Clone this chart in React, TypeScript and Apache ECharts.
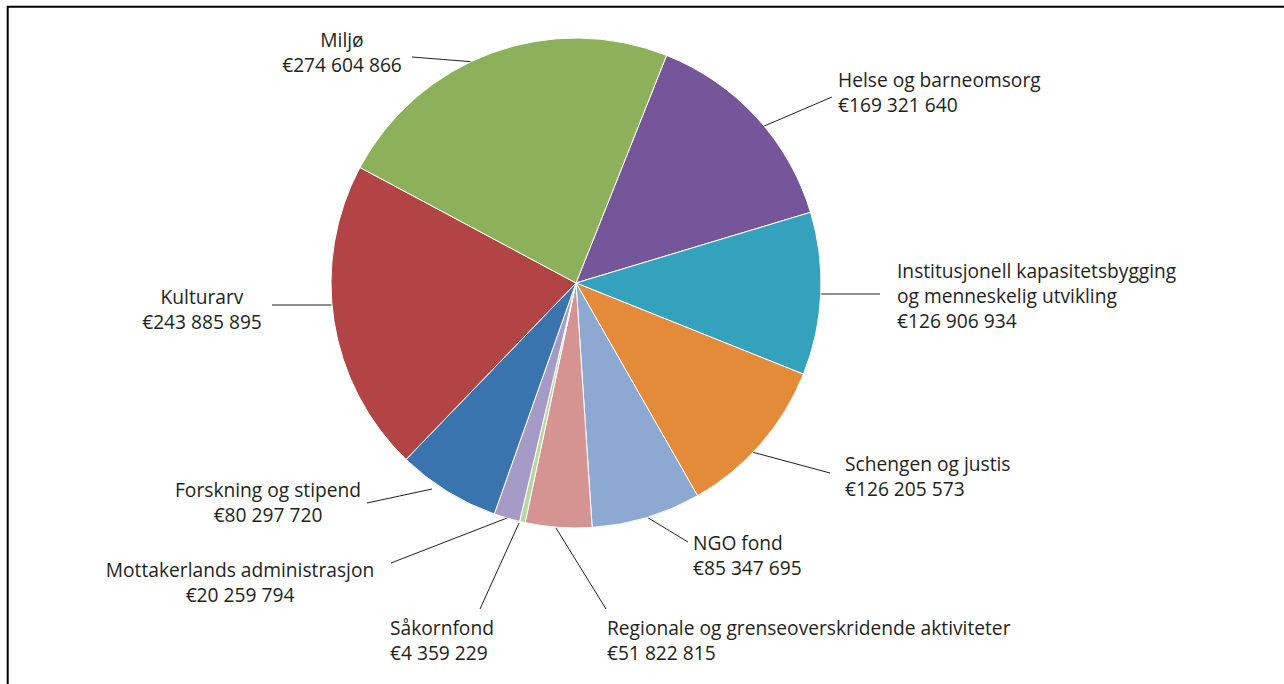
import React, { useEffect, useRef } from "react";
import * as echarts from "echarts";

// Categories in clockwise order, starting with "Helse og barneomsorg"
const categories: string[] = [
  "Helse og barneomsorg",
  "Institusjonell kapasitetsbygging\nog menneskelig utvikling",
  "Schengen og justis",
  "NGO fond",
  "Regionale og grenseoverskridende aktiviteter",
  "Såkornfond",
  "Mottakerlands administrasjon",
  "Forskning og stipend",
  "Kulturarv",
  "Miljø",
];

const values: number[] = [
  169321640,
  126906934,
  126205573,
  85347695,
  51822815,
  4359229,
  20259794,
  80297720,
  243885895,
  274604866,
];

const colors: string[] = [
  "#76569A",
  "#34A1BD",
  "#E48B3A",
  "#8DA9D2",
  "#D59492",
  "#B8D6A0",
  "#A69BC6",
  "#3A74AF",
  "#B24446",
  "#8DB05A",
];

// Label placement (layout only): anchor of text block, alignment, leader line
type Placement = { x: number; y: number; align: string; line: number[][] };
const placements: Placement[] = [
  { x: 838, y: 66.5, align: "left", line: [[762, 127], [832, 97]] },
  { x: 897, y: 258, align: "left", line: [[818, 294], [880, 294]] },
  { x: 845, y: 451, align: "left", line: [[752, 452], [830, 473]] },
  { x: 693, y: 530, align: "left", line: [[645, 516], [688, 542]] },
  { x: 607, y: 615, align: "left", line: [[556, 528], [606, 609]] },
  { x: 390, y: 615, align: "left", line: [[519, 523], [480, 609]] },
  { x: 240, y: 557, align: "center", line: [[507, 518], [391, 563]] },
  { x: 268, y: 477, align: "center", line: [[432, 489], [367, 503]] },
  { x: 202, y: 284, align: "center", line: [[332, 305], [272, 305]] },
  { x: 342, y: 27, align: "center", line: [[475, 62], [412, 57]] },
];

const fmtEuro = (v: number) =>
  "€" + String(v).replace(/\B(?=(\d{3})+(?!\d))/g, " ");

export default function App() {
  const ref = useRef<HTMLDivElement>(null);

  useEffect(() => {
    if (!ref.current) return;
    const chart = echarts.init(ref.current, undefined, { renderer: "svg" });
    const textColor = "#231F20";
    chart.setOption({
      animation: false,
      backgroundColor: "#ffffff",
      graphic: [
        {
          type: "polyline",
          shape: { points: [[7.7, 684], [7.7, 6.7], [1284, 6.7]] },
          style: { stroke: "#000000", lineWidth: 2, fill: "none" },
          silent: true,
        },
      ],
      series: [
        {
          type: "pie",
          center: [576, 283],
          radius: 245,
          startAngle: 68.3,
          clockwise: true,
          avoidLabelOverlap: false,
          itemStyle: { borderColor: "#ffffff", borderWidth: 1 },
          emphasis: { disabled: true },
          label: {
            show: true,
            position: "outside",
            color: textColor,
            fontFamily: "Open Sans",
            fontSize: 19.2,
            lineHeight: 25,
            formatter: (p: any) => p.name + "\n" + fmtEuro(p.value),
          },
          labelLine: {
            show: true,
            lineStyle: { color: textColor, width: 1 },
          },
          labelLayout: (params: any) => {
            const pl = placements[params.dataIndex];
            const a = pl.line[0];
            const b = pl.line[1];
            return {
              x: pl.x,
              y: pl.y,
              align: pl.align,
              verticalAlign: "top",
              labelLinePoints: [a, [(a[0] + b[0]) / 2, (a[1] + b[1]) / 2], b],
            };
          },
          data: categories.map((name, i) => ({
            name,
            value: values[i],
            itemStyle: { color: colors[i] },
          })),
        },
      ],
    });
    return () => chart.dispose();
  }, []);

  return (
    <div
      ref={ref}
      style={{ position: "absolute", left: 0, top: 0, width: 1284, height: 684 }}
    />
  );
}
